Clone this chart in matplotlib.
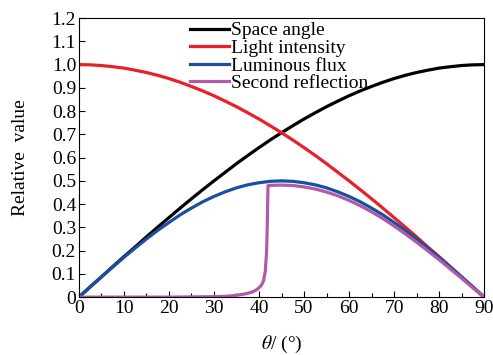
import matplotlib
matplotlib.use('Agg')
import matplotlib.pyplot as plt
from matplotlib.ticker import MultipleLocator, FuncFormatter

plt.rcParams['font.family'] = ['Liberation Serif', 'DejaVu Serif']
plt.rcParams['mathtext.fontset'] = 'stix'

# values, every 2.5 degrees
theta = [0, 2.5, 5, 7.5, 10, 12.5, 15, 17.5, 20, 22.5, 25, 27.5, 30, 32.5, 35, 37.5,
         40, 42.5, 45, 47.5, 50, 52.5, 55, 57.5, 60, 62.5, 65, 67.5, 70, 72.5, 75,
         77.5, 80, 82.5, 85, 87.5, 90]
space_angle = [0, 0.044, 0.087, 0.131, 0.174, 0.216, 0.259, 0.301, 0.342, 0.383,
               0.423, 0.462, 0.5, 0.537, 0.574, 0.609, 0.643, 0.676, 0.707, 0.737,
               0.766, 0.793, 0.819, 0.843, 0.866, 0.887, 0.906, 0.924, 0.94, 0.954,
               0.966, 0.976, 0.985, 0.991, 0.996, 0.999, 1.0]
light_intensity = space_angle[::-1]
luminous_flux = [0, 0.044, 0.087, 0.129, 0.171, 0.211, 0.25, 0.287, 0.321, 0.354,
                 0.383, 0.41, 0.433, 0.453, 0.47, 0.483, 0.492, 0.498, 0.5, 0.498,
                 0.492, 0.483, 0.47, 0.453, 0.433, 0.41, 0.383, 0.354, 0.321, 0.287,
                 0.25, 0.211, 0.171, 0.129, 0.087, 0.044, 0]

theta2 = [0, 10, 20, 30, 33, 35, 37, 38.5, 39.5, 40.5, 41, 41.4, 41.7, 41.85, 42,
          43, 45, 47.5, 50, 52.5, 55, 57.5, 60, 62.5, 65, 67.5, 70, 72.5, 75,
          77.5, 80, 82.5, 85, 87.5, 90]
second_reflection = [0, 0, 0, 0.002, 0.004, 0.008, 0.014, 0.022, 0.032, 0.05, 0.07,
                     0.11, 0.2, 0.32, 0.48, 0.481, 0.482, 0.48, 0.474, 0.465, 0.452,
                     0.436, 0.416, 0.393, 0.367, 0.338, 0.306, 0.272, 0.236, 0.199,
                     0.161, 0.121, 0.081, 0.04, 0]

fig = plt.figure(figsize=(4.93, 3.55), dpi=100)
ax = fig.add_axes([0.160, 0.163, 0.822, 0.786])

lw = 2.3
ax.plot(theta, space_angle, color='black', lw=lw, label='Space angle')
ax.plot(theta, light_intensity, color='#e8202a', lw=lw, label='Light intensity')
ax.plot(theta, luminous_flux, color='#1a4fa0', lw=lw, label='Luminous flux')
ax.plot(theta2, second_reflection, color='#b05aa8', lw=lw, label='Second reflection')

ax.set_xlim(0, 90)
ax.set_ylim(0, 1.2)
ax.xaxis.set_major_locator(MultipleLocator(10))
ax.xaxis.set_minor_locator(MultipleLocator(5))
ax.yaxis.set_major_locator(MultipleLocator(0.1))
ax.yaxis.set_major_formatter(FuncFormatter(lambda v, p: '0' if abs(v) < 1e-9 else '%.1f' % v))
ax.tick_params(direction='in', labelsize=14, length=4, width=0.8, pad=2)
ax.tick_params(which='minor', direction='in', length=3, width=0.8)

ax.set_ylabel('Relative  value', fontsize=14, labelpad=16)
ax.set_xlabel(r'$\theta$/ (°)', fontsize=14, labelpad=12)

ax.legend(loc='upper left', bbox_to_anchor=(0.255, 1.015), frameon=False, fontsize=14,
          handlelength=2.0, handletextpad=0.1, labelspacing=0.0, borderaxespad=0)

fig.savefig('out.png', dpi=100)
